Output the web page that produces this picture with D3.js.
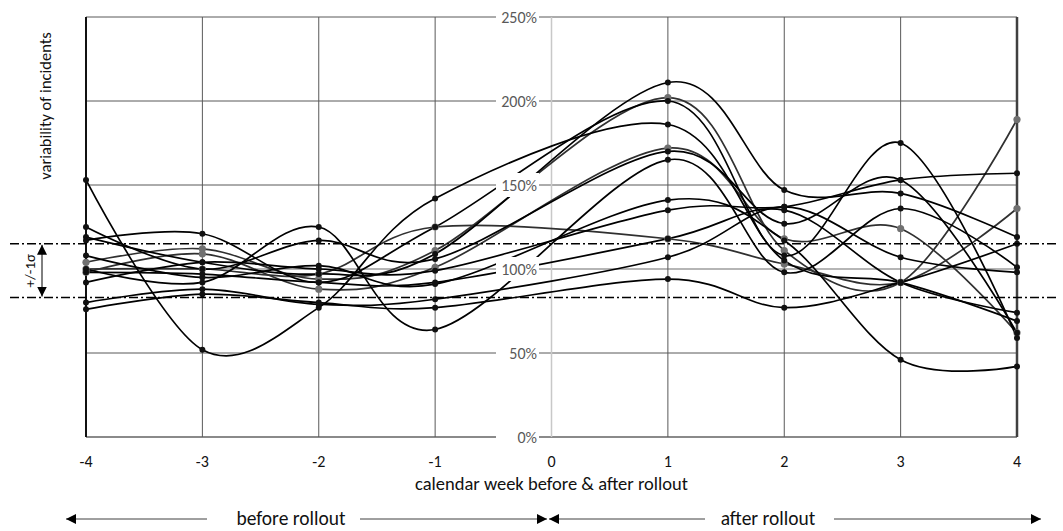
<!DOCTYPE html>
<html><head><meta charset="utf-8">
<script src="https://cdn.jsdelivr.net/npm/d3@7"></script>
<style>
body{margin:0;background:#fff;}
svg{display:block;font-family:Carlito,Lato,"Open Sans",sans-serif;}
</style></head>
<body><svg id="c" width="1063" height="531"></svg>
<script>
// ---- data ----
const weeks = [-4, -3, -2, -1, 1, 2, 3, 4];
const xTicks = [-4, -3, -2, -1, 0, 1, 2, 3, 4];
const yTicks = [0, 50, 100, 150, 200, 250];
const sigmaBand = [83, 115];
const s1  = [153, 52, 77, 142, 186, 105, 92, 69];
const s2  = [100, 92, 125, 64, 165, 98, 136, 101];
const s3  = [119, 104, 97, 109, 211, 147, 145, 119];
const s4  = [104, 112, 94, 111, 202, 111, 92, 189];
const s5  = [117, 121, 92, 125, 200, 108, 175, 59];
const s6  = [98, 109, 88, 101, 172, 118, 124, 62];
const s7  = [125, 100, 117, 106, 170, 127, 153, 62];
const s8  = [108, 95, 102, 91, 141, 117, 46, 42];
const s9  = [92, 104, 100, 99, 135, 137, 153, 157];
const s10 = [100, 100, 97, 125, 118, 103, 92, 136];
const s11 = [80, 88, 79, 82, 107, 137, 107, 98];
const s12 = [76, 85, 80, 77, 94, 77, 92, 115];
const s13 = [98, 97, 92, 92, 118, 135, 92, 74];
const blackSeries = [s1, s2, s3, s5, s7, s8, s9, s11, s12, s13];
const graySeries = [s4, s6, s10];

// ---- drawing ----
const svg = d3.select("#c");
const x = d3.scaleLinear().domain([-4, 4]).range([86, 1017]);
const y = d3.scaleLinear().domain([0, 250]).range([437, 17]);

// grid
const g = svg.append("g");
g.selectAll(".hg").data(yTicks).join("line")
  .attr("x1", x(-4)).attr("x2", x(4))
  .attr("y1", d => y(d)).attr("y2", d => y(d))
  .attr("stroke", d => d === 100 ? "#b5b5b5" : (d === 0 ? "#8a8a8a" : "#595959"))
  .attr("stroke-width", d => (d === 100 || d === 0) ? 2 : 1);
g.selectAll(".vg").data(xTicks.filter(d => d > -4 && d < 4)).join("line")
  .attr("x1", d => x(d)).attr("x2", d => x(d))
  .attr("y1", y(250)).attr("y2", y(0))
  .attr("stroke", d => d === 0 ? "#c8c8c8" : "#595959")
  .attr("stroke-width", d => d === 0 ? 1.5 : 1);
g.append("line").attr("x1", x(-4)).attr("x2", x(-4)).attr("y1", y(250)).attr("y2", y(0))
  .attr("stroke", "#111").attr("stroke-width", 2);
g.append("line").attr("x1", x(4)).attr("x2", x(4)).attr("y1", y(250)).attr("y2", y(0))
  .attr("stroke", "#404040").attr("stroke-width", 2.5);

// lines
const line = d3.line().x((d, i) => x(weeks[i])).y(d => y(d)).curve(d3.curveCardinal.tension(0));
const lg = svg.append("g").attr("fill", "none");
lg.selectAll(".gl").data(graySeries).join("path").attr("d", line)
  .attr("stroke", "#303030").attr("stroke-width", 1.7);
lg.selectAll(".bl").data(blackSeries).join("path").attr("d", line)
  .attr("stroke", "#000").attr("stroke-width", 1.7);

// markers
function markers(data, fill, r) {
  svg.append("g").selectAll("g").data(data).join("g")
    .selectAll("circle").data(d => d.map((v, i) => [weeks[i], v])).join("circle")
    .attr("cx", d => x(d[0])).attr("cy", d => y(d[1])).attr("r", r).attr("fill", fill);
}
markers(graySeries, "#707070", 3.6);
markers(blackSeries, "#111", 3);

// sigma band lines
svg.append("g").selectAll("line").data(sigmaBand).join("line")
  .attr("x1", 10).attr("x2", 1056).attr("y1", d => y(d)).attr("y2", d => y(d))
  .attr("stroke", "#000").attr("stroke-width", 1.6).attr("stroke-dasharray", "9,3,2,3");

// y tick labels with white boxes
const yl = svg.append("g");
yl.selectAll("rect").data(yTicks).join("rect")
  .attr("x", 496).attr("y", d => y(d) - 12).attr("width", 43).attr("height", 24).attr("fill", "#fff");
yl.selectAll("text").data(yTicks).join("text")
  .attr("x", 537).attr("y", d => y(d)).attr("dy", "0.35em").attr("text-anchor", "end")
  .attr("fill", "#595959").attr("font-size", 16).text(d => d + "%");

// x tick labels
svg.append("g").selectAll("text").data(xTicks).join("text")
  .attr("x", d => x(d)).attr("y", 467).attr("text-anchor", "middle")
  .attr("font-size", 16).attr("fill", "#111").text(d => d);

svg.append("text").attr("x", x(0)).attr("y", 490).attr("text-anchor", "middle")
  .attr("font-size", 18.5).attr("fill", "#111").text("calendar week before & after rollout");

svg.append("text").attr("transform", "translate(51,106) rotate(-90)").attr("text-anchor", "middle")
  .attr("font-size", 16.5).attr("fill", "#111").text("variability of incidents");

// +/-1σ annotation
svg.append("text").attr("transform", `translate(35,${(y(sigmaBand[0]) + y(sigmaBand[1])) / 2}) rotate(-90)`)
  .attr("text-anchor", "middle").attr("font-size", 15).attr("fill", "#111").text("+/-1σ");
const defs = svg.append("defs");
defs.append("marker").attr("id", "ah").attr("viewBox", "0 0 10 10").attr("refX", 10).attr("refY", 5)
  .attr("markerWidth", 10).attr("markerHeight", 10).attr("markerUnits", "userSpaceOnUse").attr("orient", "auto-start-reverse")
  .append("path").attr("d", "M0,0 L10,5 L0,10 Z").attr("fill", "#000");
svg.append("line").attr("x1", 42).attr("x2", 42).attr("y1", y(sigmaBand[1]) + 1).attr("y2", y(sigmaBand[0]) - 1)
  .attr("stroke", "#000").attr("stroke-width", 1).attr("marker-start", "url(#ah)").attr("marker-end", "url(#ah)");

// bottom arrows
function arrowSeg(x1, x2, yy, start, end) {
  const l = svg.append("line").attr("x1", x1).attr("x2", x2).attr("y1", yy).attr("y2", yy)
    .attr("stroke", "#404040").attr("stroke-width", 1);
  if (start) l.attr("marker-start", "url(#ah)");
  if (end) l.attr("marker-end", "url(#ah)");
}
const ay = 519;
arrowSeg(66, 207, ay, true, false);
arrowSeg(360, 547, ay, false, true);
arrowSeg(549, 705, ay, true, false);
arrowSeg(834, 1041, ay, false, true);
svg.append("text").attr("x", 291).attr("y", 525).attr("text-anchor", "middle")
  .attr("font-size", 19.5).attr("fill", "#111").text("before rollout");
svg.append("text").attr("x", 768).attr("y", 525).attr("text-anchor", "middle")
  .attr("font-size", 19.5).attr("fill", "#111").text("after rollout");
</script></body></html>
